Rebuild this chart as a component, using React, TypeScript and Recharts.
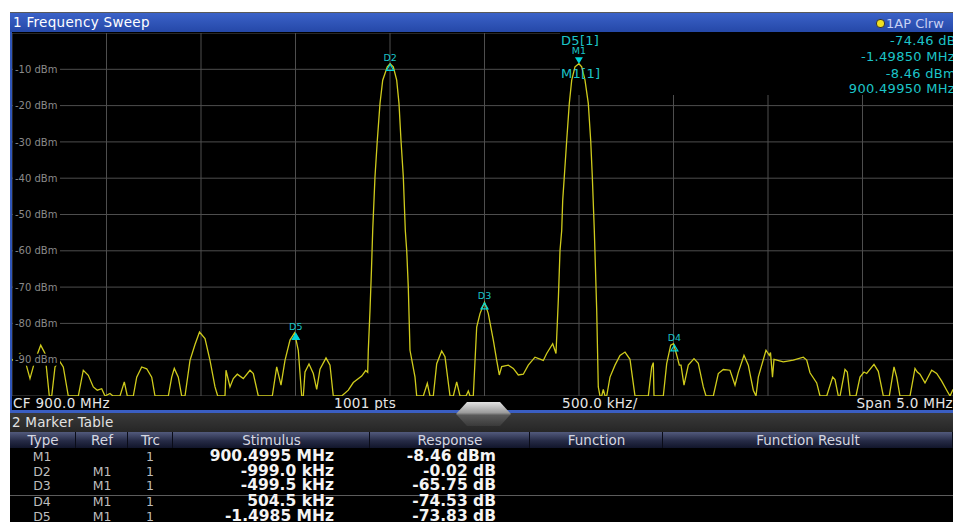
import React from "react";
import { ComposedChart, Line, Scatter, XAxis, YAxis, CartesianGrid, ReferenceArea } from "recharts";

// trace 1 (Clrw), frequency in MHz, level in dBm
const freqMHz = [
  897.5, 897.5423, 897.5688, 897.5952, 897.6217, 897.6519, 897.6746, 897.6974, 897.7101, 897.7275,
  897.7503, 897.7714, 897.7979, 897.8508, 897.8772, 897.9037, 897.9302, 897.9513, 897.9746, 897.9921,
  898.0185, 898.0344, 898.0714, 898.0942, 898.1101, 898.1418, 898.1598, 898.1862, 898.2127, 898.2392,
  898.2566, 898.327, 898.345, 898.3587, 898.3799, 898.3979, 898.4153, 898.4418, 898.4683, 898.4921,
  898.5212, 898.5476, 898.5741, 898.5884, 898.627, 898.6323, 898.6534, 898.6709, 898.6921, 898.7238,
  898.7593, 898.7767, 898.8032, 898.8772, 898.9005, 898.9233, 898.9444, 898.9709, 898.995, 899.0148,
  899.0328, 899.0413, 899.0503, 899.0714, 899.0942, 899.1122, 899.1296, 899.1614, 899.1825, 899.2,
  899.2444, 899.2794, 899.3058, 899.3503, 899.3714, 899.382, 899.3852, 899.3942, 899.4021, 899.4085,
  899.4206, 899.4328, 899.4471, 899.4614, 899.4857, 899.5005, 899.5175, 899.5354, 899.5476, 899.5582,
  899.5704, 899.581, 899.5884, 899.5968, 899.6058, 899.6323, 899.6413, 899.6762, 899.6974, 899.7116,
  899.7291, 899.7471, 899.7735, 899.791, 899.8175, 899.8349, 899.8529, 899.8704, 899.9021, 899.9143,
  899.9233, 899.9407, 899.9587, 899.9762, 900.0, 900.0201, 900.0466, 900.0646, 900.0783, 900.091,
  900.1259, 900.1524, 900.1788, 900.2053, 900.2317, 900.2672, 900.3111, 900.3291, 900.3608, 900.3783,
  900.3905, 900.3995, 900.4085, 900.4138, 900.4222, 900.4349, 900.4487, 900.4614, 900.4788, 900.4995,
  900.5143, 900.5317, 900.5492, 900.5619, 900.5704, 900.581, 900.5937, 900.6021, 900.6111, 900.6201,
  900.6286, 900.6376, 900.6466, 900.664, 900.6905, 900.7169, 900.7434, 900.7698, 900.7963, 900.8667,
  900.8847, 900.8931, 900.8968, 900.946, 900.964, 900.9852, 901.0, 901.0201, 901.0307, 901.0397,
  901.0556, 901.0783, 901.1085, 901.1312, 901.1577, 901.172, 901.2106, 901.237, 901.2635, 901.2989,
  901.3254, 901.3429, 901.373, 901.3958, 901.4222, 901.4365, 901.4487, 901.4894, 901.5069, 901.5132,
  901.5238, 901.5317, 901.581, 901.6339, 901.6868, 901.7048, 901.7222, 901.7577, 901.7751, 901.8106,
  901.8423, 901.8545, 901.872, 901.881, 901.9074, 901.9196, 901.9339, 901.9656, 901.9868, 902.0079,
  902.0222, 902.0608, 902.0836, 902.1101, 902.1418, 902.1667, 902.181, 902.1984, 902.2513, 902.2778,
  902.2899, 902.3042, 902.3307, 902.3661, 902.3926, 902.419, 902.4455, 902.463, 902.4772, 902.5,
];

const levelDbm = [
  -90.2, -88.3, -90.2, -95.2, -90.2, -86.0, -88.3, -100, -100, -92.0,
  -90.3, -92.0, -100, -100, -92.9, -94.3, -97.5, -98.4, -98.0, -100,
  -99.3, -100, -100, -96.1, -100, -100, -94.8, -92.0, -92.5, -94.8,
  -100, -100, -94.8, -92.4, -94.8, -100, -100, -90.2, -85.8, -82.4,
  -84.2, -90.2, -97.5, -100, -100, -92.9, -97.5, -95.2, -94.0, -95.2,
  -92.9, -93.8, -100, -100, -92.0, -97.0, -90.2, -84.6, -82.6, -87.4,
  -100, -100, -93.4, -91.2, -93.8, -98.2, -92.6, -89.5, -91.5, -100,
  -100, -98.4, -96.3, -94.5, -93.0, -93.5, -87.4, -76.4, -65.0, -54.4,
  -39.6, -29.6, -19.4, -13.0, -9.3, -8.48, -9.3, -13.0, -19.4, -29.6,
  -39.6, -54.4, -59.9, -70.0, -87.4, -94.8, -100, -100, -96.5, -100,
  -100, -91.1, -87.6, -89.2, -100, -100, -96.1, -100, -100, -98.6,
  -100, -100, -81.0, -77.3, -74.21, -77.3, -84.6, -90.2, -94.2, -91.9,
  -91.5, -92.4, -94.2, -94.0, -91.5, -89.3, -90.2, -88.3, -85.6, -88.3,
  -73.6, -59.9, -54.4, -46.1, -39.6, -29.6, -19.4, -13.0, -9.3, -8.46,
  -9.3, -13.0, -19.4, -29.6, -39.6, -54.4, -76.4, -97.5, -100, -100,
  -98.2, -100, -100, -94.8, -91.5, -88.8, -87.9, -89.9, -100, -100,
  -92.0, -90.8, -100, -100, -91.1, -86.0, -85.6, -89.3, -91.5, -91.5,
  -97.0, -91.5, -89.7, -91.0, -97.5, -100, -100, -93.8, -92.7, -92.9,
  -97.0, -93.5, -88.8, -91.5, -98.4, -100, -94.8, -87.4, -88.8, -88.0,
  -94.8, -89.9, -90.6, -90.1, -89.3, -90.1, -93.6, -96.4, -100, -100,
  -94.8, -95.5, -100, -100, -92.7, -93.4, -100, -100, -94.8, -93.4,
  -93.8, -91.3, -93.2, -100, -100, -92.0, -94.8, -100, -100, -92.4,
  -93.4, -94.0, -96.4, -92.9, -93.8, -95.9, -98.4, -100, -98.4, -97.0,
];

// 500 kHz/div, 10 dB/div
const xTicks = [897.5, 898.0, 898.5, 899.0, 899.5, 900.0, 900.5, 901.0, 901.5, 902.0, 902.5];
const yTicks = [0, -10, -20, -30, -40, -50, -60, -70, -80, -90, -100];

const markerNames = ["M1", "D2", "D3", "D4", "D5"];
const markerFreq = [900.4995, 899.5005, 900.0, 901.0045, 899.0015];
const markerLevel = [-8.46, -8.48, -74.21, -85.8, -82.6];

// area hidden behind the marker readout (upper right)
const infoBoxFreq = [900.3995, 902.5];
const infoBoxLevel = [-17.1, 0];

const infoLabels = ["D5[1]", "M1[1]"];
const infoValues = ["-74.46 dB", "-1.49850 MHz", "-8.46 dBm", "900.49950 MHz"];

const tableColumns = ["Type", "Ref", "Trc", "Stimulus", "Response", "Function", "Function Result"];
const tableType = ["M1", "D2", "D3", "D4", "D5"];
const tableRef = ["", "M1", "M1", "M1", "M1"];
const tableTrc = ["1", "1", "1", "1", "1"];
const tableStimulus = ["900.4995 MHz", "-999.0 kHz", "-499.5 kHz", "504.5 kHz", "-1.4985 MHz"];
const tableResponse = ["-8.46 dBm", "-0.02 dB", "-65.75 dB", "-74.53 dB", "-73.83 dB"];

const trace = freqMHz.map((f, i) => ({ f, level: levelDbm[i] }));
const markers = markerNames.map((name, i) => ({ name, f: markerFreq[i], level: markerLevel[i] }));

const FONT = "'DejaVu Sans', Verdana, sans-serif";
const CYAN = "#00d4d8";
const CYAN_TEXT = "#1cc4c8";

const colEdges = [10, 76, 128, 173, 370, 530, 663, 953];
const rowY = [457, 471.5, 486, 501.5, 516.5];

type TxtProps = {
  x: number;
  y: number;
  text: string;
  align?: "left" | "right" | "center";
  size?: number;
  color?: string;
  bold?: boolean;
  spacing?: number;
};

const Txt = ({ x, y, text, align = "left", size = 13, color = "#e6e6e6", bold = false, spacing = 0 }: TxtProps) => {
  const tx = align === "left" ? "0" : align === "right" ? "-100%" : "-50%";
  return (
    <div
      style={{
        position: "absolute",
        left: x,
        top: y,
        transform: `translate(${tx}, -50%)`,
        fontFamily: FONT,
        fontSize: size,
        fontWeight: bold ? 700 : 400,
        color,
        lineHeight: 1,
        whiteSpace: "nowrap",
        letterSpacing: spacing,
      }}
    >
      {text}
    </div>
  );
};

// level labels sit inside the diagram, at its left edge
const renderYTick = (props: any) => {
  const { y, payload } = props;
  if (payload.value === 0 || payload.value === -100) return <g />;
  return (
    <g>
      <rect x={1} y={y - 6} width={47} height={12} fill="#000" />
      <text x={3} y={y} dy={3.6} fill="#8a8a8a" fontSize={10} fontFamily={FONT} textAnchor="start">
        {`${payload.value} dBm`}
      </text>
    </g>
  );
};

const MarkerShape = (props: any) => {
  const { cx, cy, payload } = props;
  if (payload.name === "M1") {
    return (
      <g>
        <polygon points={`${cx - 4},${cy - 6.5} ${cx + 4},${cy - 6.5} ${cx},${cy}`} fill={CYAN} />
        <text x={cx} y={cy - 9.5} textAnchor="middle" fontSize={9.5} fill={CYAN_TEXT} fontFamily={FONT}>
          {payload.name}
        </text>
      </g>
    );
  }
  const filled = payload.name === "D5";
  return (
    <g>
      <polygon
        points={`${cx},${cy + 0.5} ${cx - 3.5},${cy + 6.5} ${cx + 3.5},${cy + 6.5}`}
        fill={filled ? CYAN : "none"}
        stroke={CYAN}
        strokeWidth={1.2}
      />
      <text x={cx} y={cy - 3} textAnchor="middle" fontSize={9.5} fill={CYAN_TEXT} fontFamily={FONT}>
        {payload.name}
      </text>
    </g>
  );
};

export default function App() {
  return (
    <div
      style={{
        position: "absolute",
        left: 0,
        top: 0,
        width: 953,
        height: 522,
        overflow: "hidden",
        background: "#fff",
        fontFamily: FONT,
      }}
    >
      {/* window title bar */}
      <div
        style={{
          position: "absolute",
          left: 10,
          top: 12,
          width: 943,
          height: 20,
          background: "linear-gradient(#3b62c8, #2548a8)",
          borderTop: "1px solid #5a5a5a",
          boxSizing: "border-box",
        }}
      />
      <Txt x={13} y={23} text="1 Frequency Sweep" size={13.5} color="#ffffff" spacing={0.3} />
      <div
        style={{
          position: "absolute",
          left: 876,
          top: 19,
          width: 7,
          height: 7,
          borderRadius: 4,
          background: "#f0e020",
          border: "1px solid #333",
        }}
      />
      <Txt x={886} y={23} text="1AP Clrw" size={13} color="#c8d0f4" />

      {/* left border */}
      <div style={{ position: "absolute", left: 10, top: 32, width: 2, height: 380, background: "#2f55b8" }} />

      {/* diagram background */}
      <div style={{ position: "absolute", left: 12, top: 32, width: 941, height: 380, background: "#000" }} />

      <div style={{ position: "absolute", left: 12, top: 33 }}>
        <ComposedChart width={945} height={363} data={trace} margin={{ top: 0, right: 0, bottom: 0, left: 0 }}>
          <CartesianGrid stroke="#4e4e4e" strokeWidth={1} />
          <XAxis dataKey="f" type="number" domain={[xTicks[0], xTicks[xTicks.length - 1]]} ticks={xTicks} hide allowDataOverflow />
          <YAxis
            dataKey="level"
            type="number"
            domain={[-100, 0]}
            ticks={yTicks}
            width={50}
            mirror
            axisLine={false}
            tickLine={false}
            tick={renderYTick}
            interval={0}
            allowDataOverflow
          />
          <ReferenceArea
            x1={infoBoxFreq[0]}
            x2={infoBoxFreq[1]}
            y1={infoBoxLevel[0]}
            y2={infoBoxLevel[1]}
            fill="#000"
            fillOpacity={1}
            stroke="none"
          />
          <Line
            type="linear"
            dataKey="level"
            stroke="#cfcb1c"
            strokeWidth={1.3}
            dot={false}
            isAnimationActive={false}
          />
          <Scatter data={markers} dataKey="level" shape={MarkerShape} isAnimationActive={false} />
        </ComposedChart>
      </div>

      {/* marker readout */}
      <Txt x={561} y={40} text={infoLabels[0]} size={13} color={CYAN_TEXT} spacing={0.3} />
      <Txt x={561} y={73} text={infoLabels[1]} size={13} color={CYAN_TEXT} spacing={0.3} />
      <Txt x={956} y={40} text={infoValues[0]} align="right" size={13} color={CYAN_TEXT} spacing={0.3} />
      <Txt x={955} y={55.5} text={infoValues[1]} align="right" size={13} color={CYAN_TEXT} spacing={0.3} />
      <Txt x={956} y={73} text={infoValues[2]} align="right" size={13} color={CYAN_TEXT} spacing={0.3} />
      <Txt x={955} y={88} text={infoValues[3]} align="right" size={13} color={CYAN_TEXT} spacing={0.3} />

      {/* bottom info line */}
      <div style={{ position: "absolute", left: 12, top: 396, width: 941, height: 15, background: "#000" }} />
      <Txt x={13} y={404} text="CF 900.0 MHz" size={13.5} spacing={0.3} />
      <Txt x={396} y={404} text="1001 pts" align="right" size={13.5} spacing={0.3} />
      <Txt x={562} y={404} text="500.0 kHz/" size={13.5} spacing={0.3} />
      <Txt x={953} y={404} text="Span 5.0 MHz" align="right" size={13.5} spacing={0.3} />
      <div style={{ position: "absolute", left: 10, top: 410, width: 943, height: 3, background: "#3a5ec2" }} />

      {/* marker table */}
      <div
        style={{
          position: "absolute",
          left: 10,
          top: 413,
          width: 943,
          height: 19,
          background: "linear-gradient(#3a3a3a, #262626)",
        }}
      />
      <Txt x={12} y={423} text="2 Marker Table" size={13.5} color="#e2e2e2" spacing={0.2} />

      <svg style={{ position: "absolute", left: 0, top: 0 }} width={953} height={522}>
        <defs>
          <linearGradient id="handle" x1="0" y1="0" x2="0" y2="1">
            <stop offset="0" stopColor="#e4e4e4" />
            <stop offset="0.45" stopColor="#9a9a9a" />
            <stop offset="0.55" stopColor="#5a5a5a" />
            <stop offset="1" stopColor="#3a3a3a" />
          </linearGradient>
        </defs>
        <polygon points="456,414 467,402 500,402 511,414 500,426 467,426" fill="url(#handle)" />
      </svg>

      <div
        style={{
          position: "absolute",
          left: 10,
          top: 432,
          width: 943,
          height: 90,
          background: "#000",
        }}
      />
      {tableColumns.map((c, i) => (
        <div
          key={c}
          style={{
            position: "absolute",
            left: colEdges[i],
            top: 432,
            width: colEdges[i + 1] - colEdges[i],
            height: 16,
            background: "linear-gradient(#525a7c, #262b46 55%, #11152a)",
            borderRight: "1px solid #0a0c18",
            boxSizing: "border-box",
          }}
        />
      ))}
      {tableColumns.map((c, i) => (
        <Txt
          key={`h-${c}`}
          x={(colEdges[i] + colEdges[i + 1]) / 2}
          y={440.5}
          text={c}
          align="center"
          size={13.5}
          color="#d6d8e2"
        />
      ))}

      <div style={{ position: "absolute", left: 10, top: 495, width: 943, height: 1, background: "#5c5c5c" }} />

      {tableType.map((t, i) => (
        <React.Fragment key={t}>
          <Txt x={42} y={rowY[i]} text={t} align="center" size={12.5} color="#bdbdbd" />
          <Txt x={102} y={rowY[i]} text={tableRef[i]} align="center" size={12.5} color="#bdbdbd" />
          <Txt x={150} y={rowY[i]} text={tableTrc[i]} align="center" size={12.5} color="#bdbdbd" />
          <Txt x={334} y={rowY[i]} text={tableStimulus[i]} align="right" size={15.5} bold color="#f4f4f4" />
          <Txt x={496} y={rowY[i]} text={tableResponse[i]} align="right" size={15.5} bold color="#f4f4f4" />
        </React.Fragment>
      ))}
    </div>
  );
}
